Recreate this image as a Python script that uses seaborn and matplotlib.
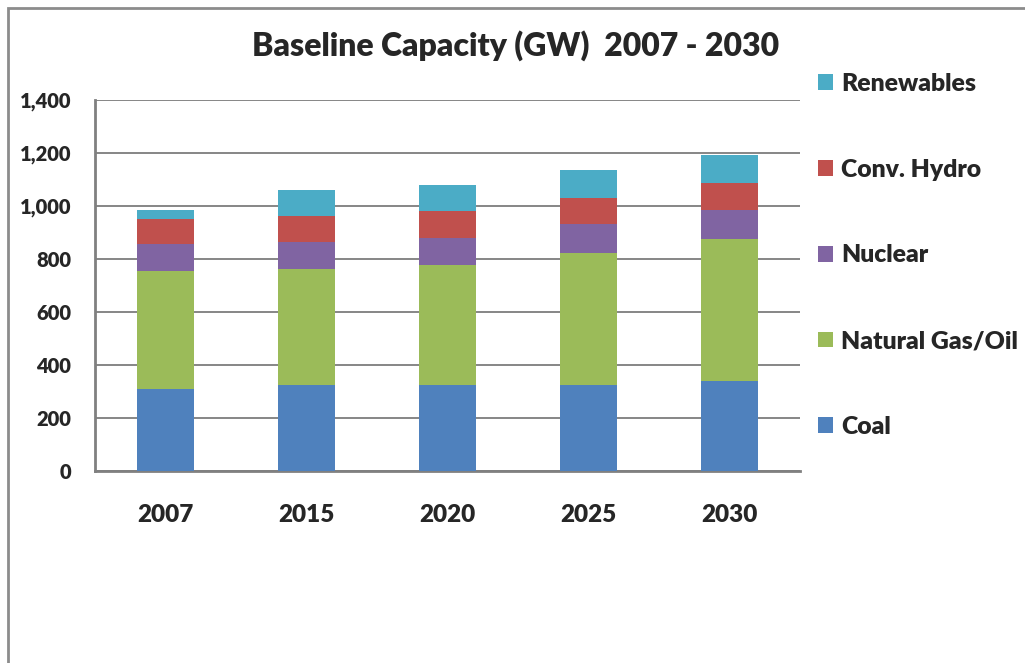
import pandas as pd
import seaborn as sns
import matplotlib.pyplot as plt
from matplotlib.patches import Rectangle, Patch

# data (GW)
years = ['2007', '2015', '2020', '2025', '2030']
coal = [310, 326, 326, 326, 339]
gas_oil = [443, 438, 450, 495, 538]
nuclear = [105, 100, 105, 110, 109]
hydro = [94, 100, 100, 99, 101]
renewables = [34, 95, 100, 107, 107]

series = ['Coal', 'Natural Gas/Oil', 'Nuclear', 'Conv. Hydro', 'Renewables']
colors = ['#4F81BD', '#9BBB59', '#8064A2', '#C0504D', '#4BACC6']

df = pd.DataFrame({'Year': years, 'Coal': coal, 'Natural Gas/Oil': gas_oil,
                   'Nuclear': nuclear, 'Conv. Hydro': hydro,
                   'Renewables': renewables})
# running totals so each layer sits on the previous one
stacked = df[series].cumsum(axis=1)
stacked['Year'] = df['Year']

sns.set_style('white')
plt.rcParams['font.family'] = ['Lato', 'DejaVu Sans']
W = 'heavy'

fig = plt.figure(figsize=(10.25, 6.63), dpi=100)
ax = fig.add_axes([95 / 1025, 1 - 471 / 663, 705 / 1025, 371 / 663])

# draw tallest layer first, then paint the lower ones over it
for name, col in reversed(list(zip(series, colors))):
    sns.barplot(data=stacked, x='Year', y=name, color=col, width=0.4,
                saturation=1, ax=ax, zorder=3, edgecolor='none')

ax.set_ylim(0, 1400)
ax.set_yticks(range(0, 1401, 200))
ax.set_yticklabels([f'{v:,}' for v in range(0, 1401, 200)])
ax.set_xlim(-0.5, 4.5)
ax.set_xlabel('')
ax.set_ylabel('')
ax.grid(axis='y', color='#868686', linewidth=1.4, zorder=0)
ax.set_axisbelow(True)
for s in ['top', 'right']:
    ax.spines[s].set_visible(False)
for s in ['left', 'bottom']:
    ax.spines[s].set_color('#808080')
    ax.spines[s].set_linewidth(2)
ax.tick_params(axis='y', length=0, pad=17, labelsize=14.5)
ax.tick_params(axis='x', length=0, pad=24, labelsize=17.5)
for lab in ax.get_xticklabels() + ax.get_yticklabels():
    lab.set_fontweight(W)

fig.text(0.503, 0.932, 'Baseline Capacity (GW)  2007 - 2030',
         ha='center', va='center', fontsize=23, fontweight=W)

handles = [Patch(facecolor=c, edgecolor='none') for c in colors]
fig.legend(handles[::-1], series[::-1], loc='upper left',
           bbox_to_anchor=(808 / 1025, 1 - 63 / 663), frameon=False,
           prop={'size': 17.8, 'weight': W}, handlelength=0.6,
           handleheight=0.6, handletextpad=0.35, labelspacing=2.58,
           borderaxespad=0)

# outer chart border (left and top edges visible in the crop)
fig.add_artist(Rectangle((7.5 / 1025, -0.5), 2, 0.5 + 1 - 7.5 / 663,
                         transform=fig.transFigure, fill=False,
                         edgecolor='#8c8c8c', linewidth=2, clip_on=False))

plt.savefig('out.png', dpi=100)
